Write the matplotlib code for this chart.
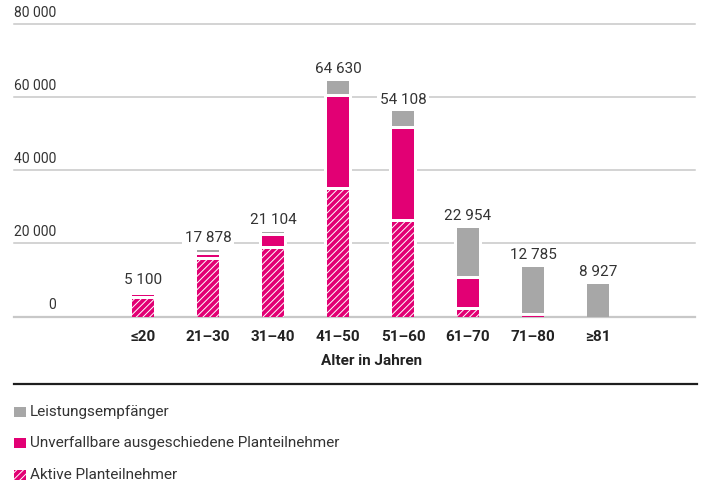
import matplotlib
matplotlib.use('Agg')
from matplotlib import pyplot as plt
from matplotlib.patches import Rectangle
from matplotlib.lines import Line2D
import numpy as np

plt.rcParams['font.family'] = ['Roboto', 'DejaVu Sans']
plt.rcParams['hatch.linewidth'] = 0.7

# data
age_groups = ['≤20', '21–30', '31–40', '41–50', '51–60', '61–70', '71–80', '≥81']
totals = [5100, 17878, 21104, 64630, 54108, 22954, 12785, 8927]
active = [4790, 15500, 18400, 34500, 25750, 1850, 0, 0]
vested = [270, 550, 2800, 24600, 24800, 7550, 250, 0]
retirees = [40, 400, 300, 3800, 3900, 13100, 12550, 8900]
y_ticks = [0, 20000, 40000, 60000, 80000]
y_tick_labels = ['0', '20 000', '40 000', '60 000', '80 000']

legend_labels = ['Leistungsempfänger', 'Unverfallbare ausgeschiedene Planteilnehmer', 'Aktive Planteilnehmer']

MAGENTA = '#E20074'
GREY = '#A7A7A7'
GAP = 820  # white gap between stacked segments, in data units (~3 px)

fig = plt.figure(figsize=(7.01, 4.88), dpi=100)
ax = fig.add_axes([14 / 701, 1 - 316.5 / 488, 681 / 701, 292.5 / 488])

x = np.arange(len(age_groups))
width = 0.34

# stack the three series with a small gap between non-empty segments
series = [(active, MAGENTA, '/////'), (vested, MAGENTA, None), (retirees, GREY, None)]
bottoms = np.zeros(len(x))
used = np.zeros(len(x), dtype=bool)
for values, color, hatch in series:
    vals = np.array(values, dtype=float)
    start = bottoms + np.where(used & (vals > 0), GAP, 0)
    if hatch:
        ax.bar(x, vals, width, bottom=start, color=color, edgecolor='white',
               linewidth=0, hatch=hatch, zorder=3)
    else:
        ax.bar(x, vals, width, bottom=start, color=color, linewidth=0, zorder=3)
    bottoms = np.where(vals > 0, start + vals, bottoms)
    used = used | (vals > 0)
tops = bottoms

# white halo behind bars to break the gridlines
ax.bar(x, tops + 300, width + 0.09, color='white', linewidth=0, zorder=1.5)

# gridlines
for t, lab in zip(y_ticks, y_tick_labels):
    ax.axhline(t, color='#c8c8c8', lw=1.1 if t else 1.6, zorder=1 if t else 1.8, clip_on=False)
    ax.annotate(lab, xy=((56 - 14) / 681, t),
                xycoords=('axes fraction', 'data'), xytext=(0, 3), textcoords='offset points',
                ha='right', va='bottom', fontsize=10, color='#333333')

# total labels
for xi, top, total in zip(x, tops, totals):
    label = f'{total:,}'.replace(',', ' ')
    ax.annotate(label, xy=(xi, top), xytext=(0, 3.5), textcoords='offset points',
                ha='center', va='bottom', fontsize=11, color='#333333', zorder=4,
                bbox=dict(boxstyle='square,pad=0.15', fc='white', ec='none'))

ax.set_xlim((14 - 143) / 65, (695 - 143) / 65)
ax.set_ylim(0, 80000)
ax.set_yticks([])
ax.set_xticks(x, age_groups, fontweight='bold', fontsize=11, color='#222222')
ax.tick_params(axis='x', length=0, pad=10)
ax.set_xlabel('Alter in Jahren', fontweight='bold', fontsize=11, color='#222222')
ax.xaxis.set_label_coords((372 - 14) / 681, -0.128)
for s in ax.spines.values():
    s.set_visible(False)

# separator line
fig.add_artist(Line2D([14 / 701, 697 / 701], [1 - 384.3 / 488] * 2, color='#1e1e1e', lw=1.6))

# legend
leg_colors = [GREY, MAGENTA, MAGENTA]
leg_hatches = [None, None, '/////']
leg_y = [411.7, 443.3, 475]
for lab, col, h, yc in zip(legend_labels, leg_colors, leg_hatches, leg_y):
    fig.add_artist(Rectangle((14 / 701, 1 - (yc + 5) / 488), 12 / 701, 10 / 488,
                             transform=fig.transFigure, facecolor=col,
                             edgecolor='white' if h else 'none', linewidth=0, hatch=h))
    fig.text(30 / 701, 1 - yc / 488, lab, ha='left', va='center', fontsize=11, color='#333333')

fig.savefig('out.png', dpi=100)
